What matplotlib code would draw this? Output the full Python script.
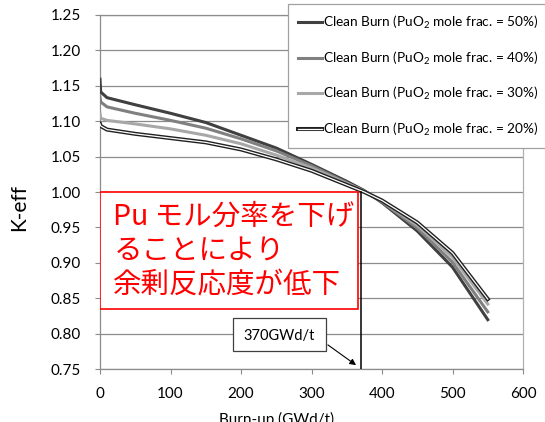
import matplotlib
matplotlib.use('Agg')
import matplotlib.pyplot as plt
import matplotlib.patheffects as pe
from matplotlib.patches import Rectangle

plt.rcParams['font.family'] = ['Lato', 'DejaVu Sans']
plt.rcParams['mathtext.fontset'] = 'custom'
plt.rcParams['mathtext.rm'] = 'Lato'
plt.rcParams['mathtext.it'] = 'Lato:italic'

# data
burnup = [0, 1, 10, 50, 100, 150, 200, 250, 300, 350, 375, 400, 450, 500, 550]
k50 = [1.159, 1.141, 1.133, 1.123, 1.111, 1.098, 1.080, 1.062, 1.039, 1.015, 1.002, 0.985, 0.945, 0.894, 0.820]
k40 = [1.134, 1.127, 1.120, 1.111, 1.101, 1.090, 1.075, 1.058, 1.037, 1.013, 1.001, 0.986, 0.949, 0.901, 0.831]
k30 = [1.111, 1.104, 1.101, 1.096, 1.089, 1.080, 1.068, 1.052, 1.034, 1.012, 1.001, 0.987, 0.953, 0.908, 0.842]
k20 = [1.096, 1.093, 1.088, 1.082, 1.076, 1.070, 1.060, 1.046, 1.030, 1.010, 1.000, 0.988, 0.957, 0.914, 0.849]
fractions = ['50%', '40%', '30%', '20%']

marker_burnup = 370
x_ticks = [0, 100, 200, 300, 400, 500, 600]
y_ticks = [0.75, 0.80, 0.85, 0.90, 0.95, 1.00, 1.05, 1.10, 1.15, 1.20, 1.25]
note_lines = ['Pu モル分率を下げ', 'ることにより', '余剰反応度が低下']

jp_font = ['Noto Sans CJK JP', 'DejaVu Sans']
grid_gray = '#8c8c8c'

fig = plt.figure(figsize=(5.45, 4.22), dpi=100)
ax = fig.add_axes([100/545, 1 - 369.3/422, 423/545, 354.6/422])

series = [k50, k40, k30, k20]
colors = ['#404040', '#808080', '#a8a8a8', 'white']
for vals, col, frac in zip(series, colors, fractions):
    label = 'Clean Burn (PuO$_2$ mole frac. = %s)' % frac
    if frac == '20%':
        # double line look
        ax.plot(burnup, vals, color='white', lw=0.9, label=label, zorder=3,
                path_effects=[pe.Stroke(linewidth=2.9, foreground='#202020'), pe.Normal()])
    else:
        ax.plot(burnup, vals, color=col, lw=2.2, label=label, zorder=3)

ax.set_xlim(0, 600)
ax.set_ylim(0.75, 1.25)
ax.set_xticks(x_ticks, labels=[str(v) for v in x_ticks], fontsize=11)
ax.set_yticks(y_ticks, labels=['%.2f' % v for v in y_ticks], fontsize=11)
ax.tick_params(direction='out', length=3.6, width=0.8, color=grid_gray)
ax.tick_params(axis='y', pad=10)
ax.tick_params(axis='x', pad=9)
ax.yaxis.grid(True, color=grid_gray, lw=0.9)
ax.set_axisbelow(True)
for side in ['left', 'bottom', 'right', 'top']:
    ax.spines[side].set_color(grid_gray)
    ax.spines[side].set_linewidth(0.9)
ax.spines['right'].set_color('#b0b0b0')

# burn-up marker line
ax.plot([marker_burnup, marker_burnup], [0.75, 1.0], color='black', lw=1.1, zorder=5)

# red note box
ax.add_patch(Rectangle((0, 0.835), 366.4, 0.165, facecolor='white', edgecolor='red', lw=1.2, zorder=4))
for i, line in enumerate(note_lines):
    ax.text(19, 0.9645 - i * 0.0482, line, color='red', fontsize=20.5, fontfamily=jp_font,
            va='center', ha='left', zorder=6)

# 370GWd/t callout
ax.add_patch(Rectangle((188.7, 0.7758), 131.4, 0.0461, facecolor='white', edgecolor='#404040', lw=0.9, zorder=4))
ax.text(254.5, 0.7975, '%dGWd/t' % marker_burnup, fontsize=10.5,
        ha='center', va='center', zorder=6)
ax.annotate('', xy=(366.4, 0.7536), xytext=(320.1, 0.7867),
            arrowprops=dict(arrowstyle='-|>', color='black', lw=0.8, mutation_scale=9), zorder=6)

leg = ax.legend(loc='upper left', bbox_to_anchor=(288/545, 1 - 4/422), bbox_transform=fig.transFigure,
                borderaxespad=0, fontsize=9.8, handlelength=1.75, handletextpad=0.08,
                labelspacing=1.35, borderpad=0.75, fancybox=False, framealpha=1, edgecolor='#a0a0a0')
leg.get_frame().set_linewidth(0.9)
leg.set_zorder(7)

fig.text(19.3/545, 1 - 207.5/422, 'K-eff', rotation=90, fontsize=15, ha='center', va='center')
fig.text(277/545, 1 - 411.7/422, 'Burn-up (GWd/t)', fontsize=11, ha='center', va='top')

fig.savefig('out.png', dpi=100)
